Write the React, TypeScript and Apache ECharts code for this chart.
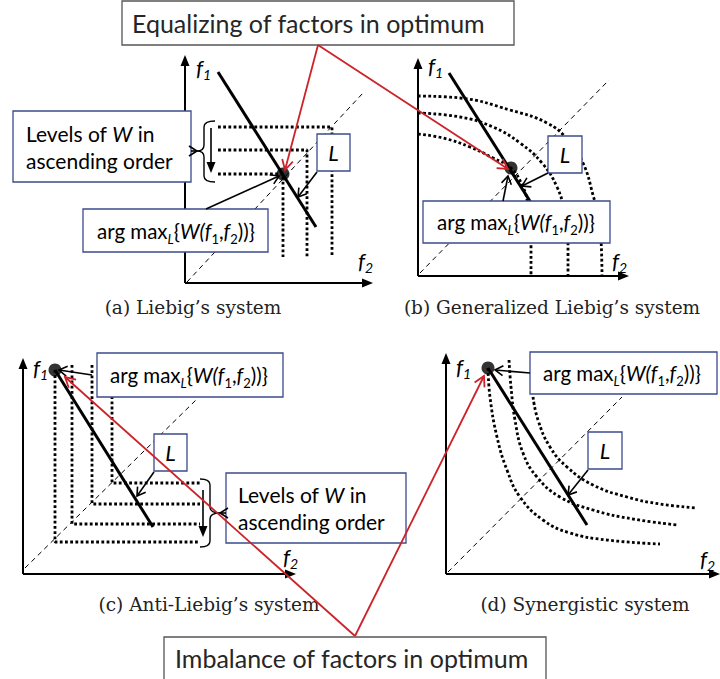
import React, { useEffect, useRef } from "react";
import * as echarts from "echarts";

type P = [number, number];

// ---- Diagram data in a 720 x 679 canvas space (y grows downward) ----
const AXIS_ARROWS: number[][] = [
  [185, 283, 185, 55], [185, 283, 373, 283],
  [418, 276, 418, 58], [418, 276, 629, 276],
  [23, 574, 23, 358], [23, 574, 296, 574],
  [446, 574, 446, 353], [446, 574, 720, 574],
];

const L_LINES: P[][] = [
  [[218, 72], [316, 227]],
  [[449, 73], [540, 217]],
  [[55, 370], [153, 527]],
  [[488, 368], [587, 525]],
];

const DIAGONALS: P[][] = [
  [[187, 282], [363, 93]],
  [[420, 273], [609, 80]],
  [[25, 568], [197, 399]],
  [[448, 572], [622, 397]],
];

// Liebig level sets (a)
const LEVELS_A: P[][] = [
  [[218, 127], [332, 127], [332, 257]],
  [[218, 150], [307, 150], [307, 257]],
  [[218, 174], [283, 174], [283, 257]],
];

// Anti-Liebig level sets (c)
const LEVELS_C: P[][] = [
  [[55, 370], [55, 542], [200, 542]],
  [[72, 365], [72, 524], [200, 524]],
  [[92, 365], [92, 504], [200, 504]],
  [[112, 365], [112, 483], [200, 483]],
];

// Generalized Liebig level curves (b)
const LEVELS_B: P[][] = [
  [[418, 134], [443, 138], [470, 147], [493, 158], [511, 168], [523, 187], [528, 205], [531, 232], [531, 276]],
  [[418, 113], [460, 117], [493, 127], [520, 143], [542, 163], [557, 187], [564, 210], [568, 240], [568, 276]],
  [[418, 96], [460, 98], [510, 110], [547, 123], [568, 140], [583, 163], [593, 195], [600, 225], [602, 276]],
];

// Synergistic level curves (d)
const LEVELS_D: P[][] = [
  [[488, 368], [490, 397], [497, 437], [507, 470], [520, 497], [543, 520], [570, 533], [607, 540], [660, 544]],
  [[509, 360], [511, 387], [515, 420], [523, 453], [537, 477], [560, 497], [593, 510], [633, 519], [678, 525]],
  [[533, 397], [538, 420], [550, 447], [567, 467], [593, 485], [627, 497], [660, 504], [697, 508]],
];

const OPTIMA: P[] = [[283, 174], [511, 168], [55, 370], [488, 368]];

const POINTER_ARROWS: number[][] = [
  [206, 209, 279, 176], [317, 172, 298, 197],
  [503, 201, 508, 176], [548, 173, 522, 186],
  [92, 375, 59, 370], [154, 472, 137, 496],
  [530, 373, 495, 370], [588, 470, 568, 495],
  [191, 151, 197, 151], [226, 513, 220, 513],
];

const ORDER_ARROWS: number[][] = [
  [211, 128, 211, 173],
  [203, 490, 203, 537],
];

const RED_ARROWS: number[][] = [
  [318, 45, 285, 170], [318, 45, 508, 169],
  [355, 636, 65, 377], [355, 636, 484, 376],
];

// braces: [xEnd, yTop, yMid, yBottom, xSpine, xTip]
const BRACES: number[][] = [
  [215, 121, 151, 182, 204, 197],
  [200, 479, 513, 547, 210, 220],
];

const CAPTIONS = [
  "(a) Liebig\u2019s system",
  "(b) Generalized Liebig\u2019s system",
  "(c) Anti-Liebig\u2019s system",
  "(d) Synergistic system",
];

const FONT = "Lato";
const NAVY = "#3b4b8c";
const RED = "#cc2229";

function arrowRender(color: string, width: number, filled: boolean, len: number, half: number) {
  return (_p: any, api: any) => {
    const a = api.coord([api.value(0), api.value(1)]);
    const b = api.coord([api.value(2), api.value(3)]);
    const ang = Math.atan2(b[1] - a[1], b[0] - a[0]);
    const c = Math.cos(ang), s = Math.sin(ang);
    const bx = b[0] - len * c, by = b[1] - len * s;
    const l = [bx + half * s, by - half * c];
    const r = [bx - half * s, by + half * c];
    const endX = filled ? b[0] - len * 0.5 * c : b[0];
    const endY = filled ? b[1] - len * 0.5 * s : b[1];
    return {
      type: "group",
      children: [
        { type: "line", shape: { x1: a[0], y1: a[1], x2: endX, y2: endY }, style: { stroke: color, lineWidth: width } },
        filled
          ? { type: "polygon", shape: { points: [b, l, r] }, style: { fill: color } }
          : { type: "polyline", shape: { points: [l, b, r] }, style: { stroke: color, lineWidth: width, fill: null } },
      ],
    };
  };
}

function braceRender(_p: any, api: any) {
  const xe = api.value(0), yt = api.value(1), ym = api.value(2), yb = api.value(3), xs = api.value(4), xt = api.value(5);
  const r = 6;
  const pt = (x: number, y: number) => {
    const q = api.coord([x, y]);
    return q[0].toFixed(1) + "," + q[1].toFixed(1);
  };
  const d =
    "M" + pt(xe, yt) +
    " Q" + pt(xs, yt) + " " + pt(xs, yt + r) +
    " L" + pt(xs, ym - r) +
    " Q" + pt(xs, ym) + " " + pt(xt, ym) +
    " Q" + pt(xs, ym) + " " + pt(xs, ym + r) +
    " L" + pt(xs, yb - r) +
    " Q" + pt(xs, yb) + " " + pt(xe, yb);
  return { type: "path", shape: { pathData: d }, style: { stroke: "#000", lineWidth: 1.4, fill: null } };
}

const lineSeries = (pts: P[], style: any, smooth: number | boolean = false) => ({
  type: "line",
  data: pts,
  symbol: "none",
  smooth,
  lineStyle: style,
  silent: true,
  clip: false,
  z: 2,
});

const makeRich = (size: number, sub: number, lh: number) => ({
  n: { fontSize: size, fontFamily: FONT, lineHeight: lh, verticalAlign: "middle" },
  i: { fontSize: size, fontFamily: FONT, fontStyle: "italic", lineHeight: lh, verticalAlign: "middle" },
  s: { fontSize: sub, fontFamily: FONT, lineHeight: sub, verticalAlign: "bottom" },
  si: { fontSize: sub, fontFamily: FONT, fontStyle: "italic", lineHeight: sub, verticalAlign: "bottom" },
});

const ARGMAX = "{n|arg max}{si|L}{n|{}{i|W(f}{s|1}{n|,}{i|f}{s|2}{n|))}}";
const LEVELS_TXT = "{n|Levels of }{i|W}{n| in}\n{n|ascending order}";

function box(x: number, y: number, w: number, h: number, stroke: string) {
  return { type: "rect", z: 10, shape: { x, y, width: w, height: h }, style: { fill: "#fff", stroke, lineWidth: 1.3 } };
}

function txt(x: number, y: number, text: string, size = 22, sub = 14, lh = 28, extra: any = {}) {
  return {
    type: "text",
    z: 11,
    x,
    y,
    style: {
      text,
      fontSize: size,
      fontFamily: FONT,
      lineHeight: lh,
      fill: "#000",
      align: "left",
      verticalAlign: "middle",
      textAlign: "left",
      textVerticalAlign: "middle",
      rich: makeRich(size, sub, lh),
      ...extra,
    },
  };
}

function plainTxt(x: number, y: number, text: string) {
  return {
    type: "text",
    z: 11,
    x,
    y,
    style: {
      text,
      fontSize: 25,
      fontFamily: FONT,
      fill: "#262626",
      align: "left",
      verticalAlign: "middle",
      textAlign: "left",
      textVerticalAlign: "middle",
    },
  };
}

const centerL = { align: "center", textAlign: "center" };

function fLabel(x: number, y: number, n: string) {
  return txt(x, y, "{i|f}{si|" + n + "}", 22, 14, 28);
}

function caption(x: number, y: number, text: string) {
  return {
    type: "text",
    z: 11,
    x,
    y,
    style: {
      text,
      fontSize: 18.5,
      fontFamily: "DejaVu Serif",
      fill: "#222",
      align: "center",
      verticalAlign: "middle",
      textAlign: "center",
      textVerticalAlign: "middle",
    },
  };
}

export default function App() {
  const ref = useRef<HTMLDivElement>(null);
  useEffect(() => {
    if (!ref.current) return;
    const chart = echarts.init(ref.current, null, { renderer: "svg" });
    const solid = { color: "#000", width: 3, type: "solid" };
    const dashed = { color: "#000", width: 1, type: [5, 4] };
    const dotted = { color: "#000", width: 2.8, type: [2.8, 2.4] };
    const series: any[] = [];
    L_LINES.forEach((p) => series.push(lineSeries(p, solid)));
    DIAGONALS.forEach((p) => series.push(lineSeries(p, dashed)));
    LEVELS_A.forEach((p) => series.push(lineSeries(p, dotted)));
    LEVELS_C.forEach((p) => series.push(lineSeries(p, dotted)));
    LEVELS_B.forEach((p) => series.push(lineSeries(p, dotted, 0.45)));
    LEVELS_D.forEach((p) => series.push(lineSeries(p, dotted, 0.45)));
    series.push({
      type: "custom", data: AXIS_ARROWS, encode: { x: [0, 2], y: [1, 3] }, z: 3, silent: true, clip: false,
      renderItem: arrowRender("#000", 2, true, 11, 4.5),
    });
    series.push({
      type: "custom", data: ORDER_ARROWS, encode: { x: [0, 2], y: [1, 3] }, z: 3, silent: true, clip: false,
      renderItem: arrowRender("#000", 1.6, true, 11, 4.5),
    });
    series.push({
      type: "custom", data: BRACES, encode: { x: [0, 4], y: [1, 3] }, z: 3, silent: true, clip: false,
      renderItem: braceRender,
    });
    series.push({
      type: "scatter", data: OPTIMA, symbol: "circle", symbolSize: 13, itemStyle: { color: "#000" }, z: 12, silent: true,
    });
    series.push({
      type: "custom", data: POINTER_ARROWS, encode: { x: [0, 2], y: [1, 3] }, z: 13, silent: true, clip: false,
      renderItem: arrowRender("#000", 1.6, false, 8, 5),
    });
    series.push({
      type: "custom", data: RED_ARROWS, encode: { x: [0, 2], y: [1, 3] }, z: 20, silent: true, clip: false,
      renderItem: arrowRender(RED, 1.8, false, 10, 5.5),
    });

    const graphics: any[] = [
      box(122, 1, 392, 44, "#555"),
      plainTxt(132, 23, "Equalizing of factors in optimum"),
      box(164, 637, 382, 50, "#555"),
      plainTxt(175, 658, "Imbalance of factors in optimum"),
      // panel a
      box(13, 111, 178, 71, NAVY),
      txt(26, 147, LEVELS_TXT, 21, 14, 27),
      box(83, 209, 185, 43, NAVY),
      txt(97, 231, ARGMAX, 20.5, 13, 28),
      box(317, 134, 33, 37, NAVY),
      txt(333.5, 152.5, "{i|L}", 22, 14, 28, centerL),
      // panel b
      box(548, 136, 34, 37, NAVY),
      txt(565, 154.5, "{i|L}", 22, 14, 28, centerL),
      box(423, 201, 187, 42, NAVY),
      txt(437, 222, ARGMAX, 20.5, 13, 28),
      // panel c
      box(97, 353, 186, 44, NAVY),
      txt(110, 375, ARGMAX, 20.5, 13, 28),
      box(154, 434, 33, 37, NAVY),
      txt(170.5, 452.5, "{i|L}", 22, 14, 28, centerL),
      box(226, 473, 180, 70, NAVY),
      txt(238, 508, LEVELS_TXT, 21, 14, 27),
      // panel d
      box(530, 352, 187, 42, NAVY),
      txt(543, 373, ARGMAX, 20.5, 13, 28),
      box(588, 432, 34, 37, NAVY),
      txt(605, 450.5, "{i|L}", 22, 14, 28, centerL),
      // axis labels
      fLabel(196, 67, "1"), fLabel(358, 260, "2"),
      fLabel(428, 65, "1"), fLabel(612, 260, "2"),
      fLabel(33, 367, "1"), fLabel(283, 556, "2"),
      fLabel(456, 366, "1"), fLabel(700, 558, "2"),
      // captions
      caption(193, 307, CAPTIONS[0]),
      caption(552, 307, CAPTIONS[1]),
      caption(209, 604, CAPTIONS[2]),
      caption(585, 604, CAPTIONS[3]),
    ];

    chart.setOption({
      animation: false,
      backgroundColor: "#fff",
      grid: { left: 0, right: 0, top: 0, bottom: 0 },
      xAxis: { type: "value", min: 0, max: 720, show: false },
      yAxis: { type: "value", min: 0, max: 679, inverse: true, show: false },
      graphic: { elements: graphics },
      series,
    });
    return () => chart.dispose();
  }, []);
  return (
    <div
      ref={ref}
      style={{ position: "absolute", left: 0, top: 0, width: 720, height: 679, background: "#fff" }}
    />
  );
}
